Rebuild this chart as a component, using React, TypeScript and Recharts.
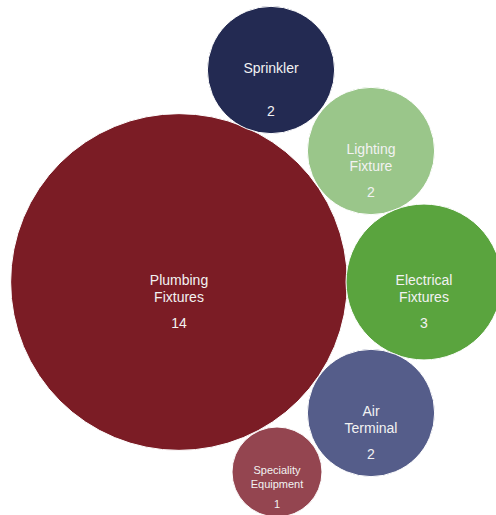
import React from 'react';
import { ScatterChart, Scatter, XAxis, YAxis, ZAxis, Cell } from 'recharts';

const categories = ['Plumbing Fixtures', 'Sprinkler', 'Lighting Fixture', 'Electrical Fixtures', 'Air Terminal', 'Speciality Equipment'];
const counts = [14, 2, 2, 3, 2, 1];
// packed bubble layout positions (chart units)
const bubbleX = [179, 271, 371, 424, 371, 277];
const bubbleY = [282, 70, 151, 282, 413, 472];
const colors = ['#7b1c25', '#232a52', '#9ac68a', '#5aa43e', '#555d8a', '#944550'];

const data = categories.map((name, i) => ({ name, value: counts[i], x: bubbleX[i], y: bubbleY[i] }));

const MAX_COUNT = 14;
const MAX_AREA = Math.PI * 45 * 45 * MAX_COUNT;

const Bubble = (props: any) => {
    const { cx, cy, width, size, fill, payload } = props;
    const r = width ? width / 2 : Math.sqrt((size || 0) / Math.PI);
    const small = payload.value <= 1;
    const fs = small ? 11 : 14;
    const lh = small ? 14 : 17;
    const words = String(payload.name).split(' ');
    const valueOffset = small ? 32 : 41;
    return (
        <g>
            <circle cx={cx} cy={cy} r={r} fill={fill} stroke="#ffffff" strokeWidth={1} />
            {words.map((w: string, i: number) => (
                <text
                    key={i}
                    x={cx}
                    y={cy - 2 + i * lh}
                    textAnchor="middle"
                    dominantBaseline="central"
                    fill="#f2f2f2"
                    fontSize={fs}
                    fontFamily="'Liberation Sans', Arial, sans-serif"
                >
                    {w}
                </text>
            ))}
            <text
                x={cx}
                y={cy + valueOffset}
                textAnchor="middle"
                dominantBaseline="central"
                fill="#f2f2f2"
                fontSize={fs}
                fontFamily="'Liberation Sans', Arial, sans-serif"
            >
                {payload.value}
            </text>
        </g>
    );
};

export default function App() {
    return (
        <div style={{ position: 'absolute', left: 0, top: 0, width: 496, height: 515, background: '#ffffff' }}>
            <ScatterChart width={496} height={515} margin={{ top: 0, right: 0, bottom: 0, left: 0 }}>
                <XAxis type="number" dataKey="x" domain={[0, 496]} hide />
                <YAxis type="number" dataKey="y" domain={[0, 515]} reversed hide />
                <ZAxis type="number" dataKey="value" domain={[0, MAX_COUNT]} range={[0, MAX_AREA]} />
                <Scatter data={data} shape={<Bubble />} isAnimationActive={false}>
                    {data.map((d, i) => (
                        <Cell key={d.name} fill={colors[i]} />
                    ))}
                </Scatter>
            </ScatterChart>
        </div>
    );
}
